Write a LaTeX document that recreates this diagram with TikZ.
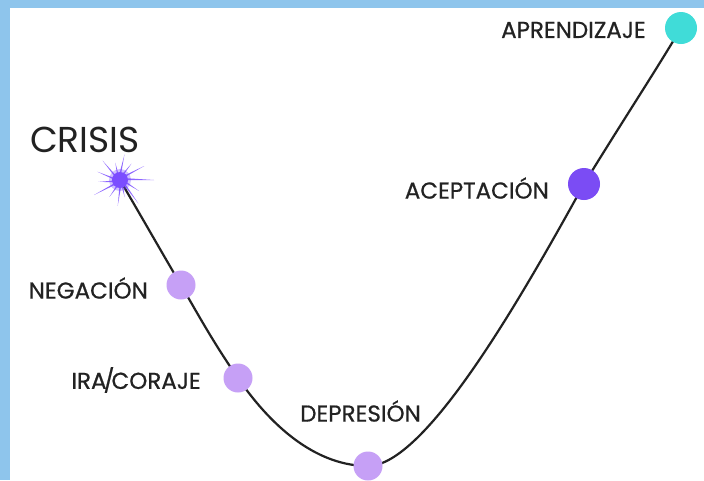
\documentclass[tikz,border=0pt]{standalone}
\usepackage{fontspec}
\setmainfont{Poppins}
\newfontfamily\lblfont{Poppins}[FakeBold=0.7]
\usetikzlibrary{backgrounds,calc}
\definecolor{frameblue}{HTML}{8EC5EC}
\definecolor{lav}{HTML}{C6A0F6}
\definecolor{violet}{HTML}{7B4CF4}
\definecolor{teal}{HTML}{40DCD8}
\definecolor{starc}{HTML}{7B4DFF}
\definecolor{ink}{HTML}{222222}
\begin{document}
\begin{tikzpicture}[x=1pt,y=-1pt,
  dot/.style={circle,inner sep=0pt,minimum size=29pt},
  lbl/.style={text=ink,font=\lblfont\fontsize{23}{23}\selectfont,inner sep=0pt,anchor=east},
  curve/.style={draw=ink,line width=2.2pt}]
\useasboundingbox (0,0) rectangle (704,480);
\begin{pgfonlayer}{background}
\fill[white] (0,0) rectangle (704,480);
\fill[frameblue] (0,0) rectangle (704,8);
\fill[frameblue] (0,0) rectangle (10,480);
\end{pgfonlayer}
% nodes
\node[dot] (crisis) at (120,180) {};
\node[dot,fill=lav] (neg) at (181,285) {};
\node[dot,fill=lav] (ira) at (238,378) {};
\node[dot,fill=lav] (dep) at (368,466) {};
\node[dot,fill=violet,minimum size=32pt] (acep) at (584,184) {};
\node[dot,fill=teal,minimum size=32pt] (apr) at (681,28) {};
% star burst
\foreach \a/\r in {0/34,30/22,52/30,75/18,95/26,122/20,150/30,175/22,200/24,228/26,255/18,280/26,305/20,330/28}{
  \fill[starc,opacity=0.85] (crisis.center) -- ++(\a+90:2.2) -- ++(\a-90:4.4) -- ($(crisis.center)+(\a:\r)$) -- cycle;
}
\fill[starc,opacity=0.35] (crisis.center) circle (11);
\fill[starc] (crisis.center) circle (8);
% labels
\node[text=ink,font=\fontsize{36}{36}\selectfont,inner sep=0pt] (tcrisis) at (85,140) {CRISIS};
\node[lbl] (tneg) at (148,288) {NEGACIÓN};
\node[lbl] (tira) at (201,380) {IRA\kern-3pt/\kern-3pt CORAJE};
\node[lbl] (tdep) at (421,411) {DEPRESIÓN};
\node[lbl] (tacep) at (549,188) {ACEPTACIÓN};
\node[lbl] (tapr) at (646,30) {APRENDIZAJE};
% curve
\begin{pgfonlayer}{background}
\draw[curve] (crisis.center) .. controls (148,228) and (165,258) .. (neg.center)
  .. controls (200,318) and (215,345) .. (ira.center)
  .. controls (275,432) and (320,466) .. (dep.center)
  .. controls (425,466) and (520,300) .. (acep.center)
  .. controls (620,125) and (655,72) .. (apr.center);
\end{pgfonlayer}
\end{tikzpicture}
\end{document}
